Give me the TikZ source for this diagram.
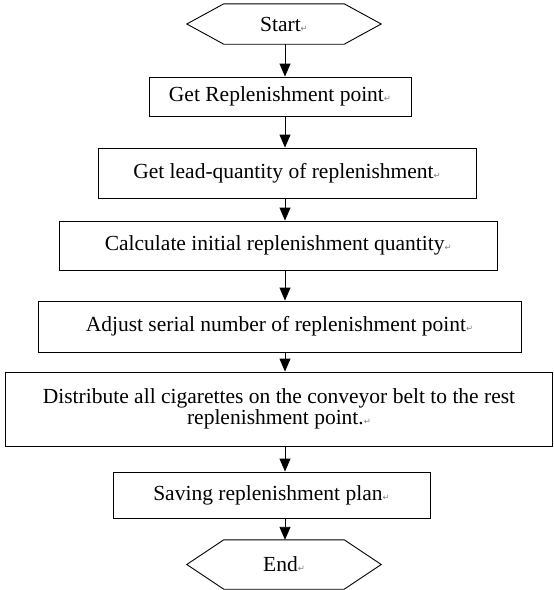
\documentclass[tikz,border=0pt]{standalone}
\usepackage{fontspec}
\setmainfont{Liberation Serif}
\newfontfamily\symfont{DejaVu Sans}
\usetikzlibrary{arrows.meta,calc}
\newcommand\retmark{{\symfont\fontsize{8.5}{8.5}\selectfont\textcolor{gray}{↵}}}
\begin{document}
\begin{tikzpicture}[x=1pt,y=-1pt,
  every node/.style={font=\fontsize{21.5}{21}\selectfont, inner sep=0pt},
  stepbox/.style={draw, line width=0.9pt, align=center},
  termtext/.style={minimum width=120pt},
  hexline/.style={line width=0.9pt},
  arr/.style={-{Triangle[width=11pt,length=13pt]}, line width=0.9pt}]
\useasboundingbox (0,0) rectangle (554,590);

% terminals
\node[termtext, minimum height=40pt] (st) at (284,24) {Start\retmark};
\draw[hexline] (st.north west) -- (st.north east) -- ($(st.east)+(37,0)$)
  -- (st.south east) -- (st.south west) -- ($(st.west)+(-37,0)$) -- cycle;

\node[termtext, minimum height=49pt] (en) at (284,564.5) {End\retmark};
\draw[hexline] (en.north west) -- (en.north east) -- ($(en.east)+(37,0)$)
  -- (en.south east) -- (en.south west) -- ($(en.west)+(-37,0)$) -- cycle;

% process boxes
\node[stepbox, minimum width=262pt, minimum height=39pt] (b1) at (280,96.5)
  {Get Replenishment point\retmark};
\node[stepbox, minimum width=378pt, minimum height=50pt] (b2) at (287,173)
  {Get lead-quantity of replenishment\retmark};
\node[stepbox, minimum width=437.5pt, minimum height=49pt] (b3) at (278.25,245.5)
  {Calculate initial replenishment quantity\retmark};
\node[stepbox, minimum width=483pt, minimum height=51pt] (b4) at (279.5,326.5)
  {Adjust serial number of replenishment point\retmark};
\node[stepbox, minimum width=547pt, minimum height=74pt] (b5) at (279,409)
  {Distribute all cigarettes on the conveyor belt to the rest\\replenishment point.\retmark};
\node[stepbox, minimum width=317pt, minimum height=46pt] (b6) at (271.5,495)
  {Saving replenishment plan\retmark};

% connectors
\coordinate (ax) at (285,0);
\draw[arr] (ax |- st.south) -- (ax |- b1.north);
\draw[arr] (ax |- b1.south) -- (ax |- b2.north);
\draw[arr] (ax |- b2.south) -- (ax |- b3.north);
\draw[arr] (ax |- b3.south) -- (ax |- b4.north);
\draw[arr] (ax |- b4.south) -- (ax |- b5.north);
\draw[arr] (ax |- b5.south) -- (ax |- b6.north);
\draw[arr] (ax |- b6.south) -- (ax |- en.north);
\end{tikzpicture}
\end{document}
